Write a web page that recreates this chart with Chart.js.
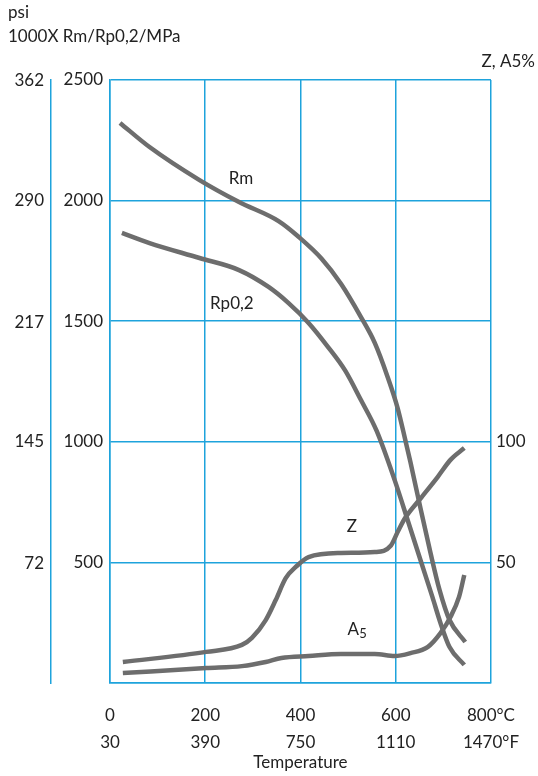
<!DOCTYPE html>
<html>
<head>
<meta charset="utf-8">
<script src="https://cdn.jsdelivr.net/npm/chart.js@4.4.1/dist/chart.umd.min.js"></script>
<style>
  html, body { margin: 0; padding: 0; background: #fff; }
</style>
</head>
<body>
<canvas id="tempChart" width="538" height="776"></canvas>
<script>
// tick labels
const tempC = [0, 200, 400, 600, 800];
const tempF = [30, 390, 750, 1110, 1470];
const mpaTicks = [500, 1000, 1500, 2000, 2500];
const psiTicks = [72, 145, 217, 290, 362];
const pctTicks = [50, 100];

// Rm (MPa)
const rmTemp = [21, 83, 188, 271, 354, 396, 444, 485, 527, 556, 583, 604, 621, 631, 652, 673, 692, 713, 746];
const rmVal  = [2322, 2222, 2085, 1994, 1915, 1850, 1760, 1655, 1517, 1410, 1269, 1140, 1000, 915, 725, 540, 386, 261, 170];

// Rp0,2 (MPa)
const rpTemp = [25, 83, 188, 271, 333, 375, 417, 458, 494, 527, 560, 598, 625, 652, 677, 694, 713, 744];
const rpVal  = [1866, 1824, 1762, 1712, 1642, 1575, 1493, 1393, 1295, 1173, 1045, 840, 676, 510, 357, 249, 149, 75];

// Z (%)
const zTemp = [27, 202, 277, 298, 327, 348, 369, 390, 417, 485, 556, 590, 605, 620, 652, 688, 715, 744];
const zVal  = [8.7, 12.9, 15.8, 18.7, 26.1, 34.4, 43.5, 48.1, 52.2, 53.9, 54.3, 57.0, 63.0, 68.5, 76.5, 85.4, 92.5, 97.4];

// A5 (%)
const aTemp = [27, 202, 277, 327, 360, 417, 485, 556, 598, 631, 667, 694, 715, 733, 744];
const aVal  = [4.1, 6.2, 7.0, 8.7, 10.4, 11.2, 12.0, 12.0, 11.2, 12.4, 14.9, 20.7, 27.4, 35.7, 44.8];

const blue = '#1ea3dc';
const grey = '#6d6d6d';
const ink = '#222222';
const family = 'Lato, "Open Sans", sans-serif';

Chart.defaults.font.family = family;
Chart.defaults.font.size = 17;
Chart.defaults.color = ink;

function points(xs, ys) {
  return xs.map((x, i) => ({ x: x, y: ys[i] }));
}

function curve(label, xs, ys, axis) {
  return {
    label: label,
    data: points(xs, ys),
    yAxisID: axis,
    borderColor: grey,
    borderWidth: 4.5,
    pointRadius: 0,
    cubicInterpolationMode: 'monotone',
    fill: false
  };
}

// header texts and curve names
const textPlugin = {
  id: 'texts',
  afterDraw(chart) {
    const ctx = chart.ctx;
    const x = chart.scales.x, y = chart.scales.y;
    ctx.save();
    ctx.fillStyle = ink;
    ctx.font = '17px ' + family;
    ctx.textBaseline = 'middle';
    ctx.textAlign = 'left';
    ctx.fillText('psi', 8, 13);
    ctx.fillText('1000X Rm/Rp0,2/MPa', 8, 37);
    ctx.textAlign = 'right';
    ctx.fillText('Z, A5%', 535, 62);

    ctx.font = '17px ' + family;
    ctx.textAlign = 'center';
    ctx.fillText('Rm', x.getPixelForValue(275), y.getPixelForValue(2090));
    ctx.fillText('Rp0,2', x.getPixelForValue(256), y.getPixelForValue(1575));
    ctx.fillText('Z', x.getPixelForValue(508), y.getPixelForValue(647));
    const ax = x.getPixelForValue(511), ay = y.getPixelForValue(220);
    ctx.fillText('A', ax, ay);
    ctx.font = '13px ' + family;
    ctx.textAlign = 'left';
    ctx.fillText('5', ax + 6, ay + 4);
    ctx.restore();
  }
};

var ctx = document.getElementById('tempChart').getContext('2d');

var myChart = new Chart(ctx, {
  type: 'line',
  data: {
    datasets: [
      curve('Rm', rmTemp, rmVal, 'y'),
      curve('Rp0,2', rpTemp, rpVal, 'y'),
      curve('Z', zTemp, zVal, 'y2'),
      curve('A5', aTemp, aVal, 'y2')
    ]
  },
  options: {
    responsive: false,
    animation: false,
    layout: { padding: { top: 80, left: 0, right: 0, bottom: 0 } },
    plugins: {
      legend: { display: false },
      tooltip: { enabled: false }
    },
    scales: {
      x: {
        type: 'linear',
        min: 0,
        max: 800,
        afterBuildTicks: s => { s.ticks = tempC.map(v => ({ value: v })); },
        afterFit: s => { s.height = 93; },
        grid: { color: blue, lineWidth: 1.5, drawTicks: false },
        border: { color: blue, width: 1.5 },
        ticks: {
          padding: 19,
          font: { size: 17, lineHeight: 27 / 17 },
          maxRotation: 0,
          callback: (v) => {
            const i = tempC.indexOf(v);
            if (i === tempC.length - 1) return [v + '°C', tempF[i] + '°F'];
            return [String(v), String(tempF[i])];
          }
        },
        title: {
          display: true,
          text: 'Temperature',
          font: { size: 17 },
          padding: { top: 0, bottom: 3 }
        }
      },
      y: {
        position: 'left',
        weight: 0,
        min: 0,
        max: 2500,
        afterBuildTicks: s => { s.ticks = [0].concat(mpaTicks).map(v => ({ value: v })); },
        afterFit: s => { s.width = 59; },
        grid: { color: blue, lineWidth: 1.5, drawTicks: false },
        border: { color: blue, width: 1.5 },
        ticks: {
          padding: 7,
          callback: v => (v === 0 ? '' : v)
        }
      },
      psi: {
        position: 'left',
        weight: 1,
        min: 0,
        max: 362.5,
        afterBuildTicks: s => { s.ticks = psiTicks.map(v => ({ value: v })); },
        afterFit: s => { s.width = 51; },
        grid: { display: false, drawTicks: false },
        border: { color: blue, width: 1.5 },
        ticks: { padding: 7 }
      },
      y2: {
        position: 'right',
        min: 0,
        max: 250,
        afterBuildTicks: s => { s.ticks = pctTicks.map(v => ({ value: v })); },
        afterFit: s => { s.width = 47; },
        grid: { display: false, drawTicks: false },
        border: { display: false },
        ticks: { padding: 5 }
      }
    }
  },
  plugins: [textPlugin]
});
</script>
</body>
</html>
